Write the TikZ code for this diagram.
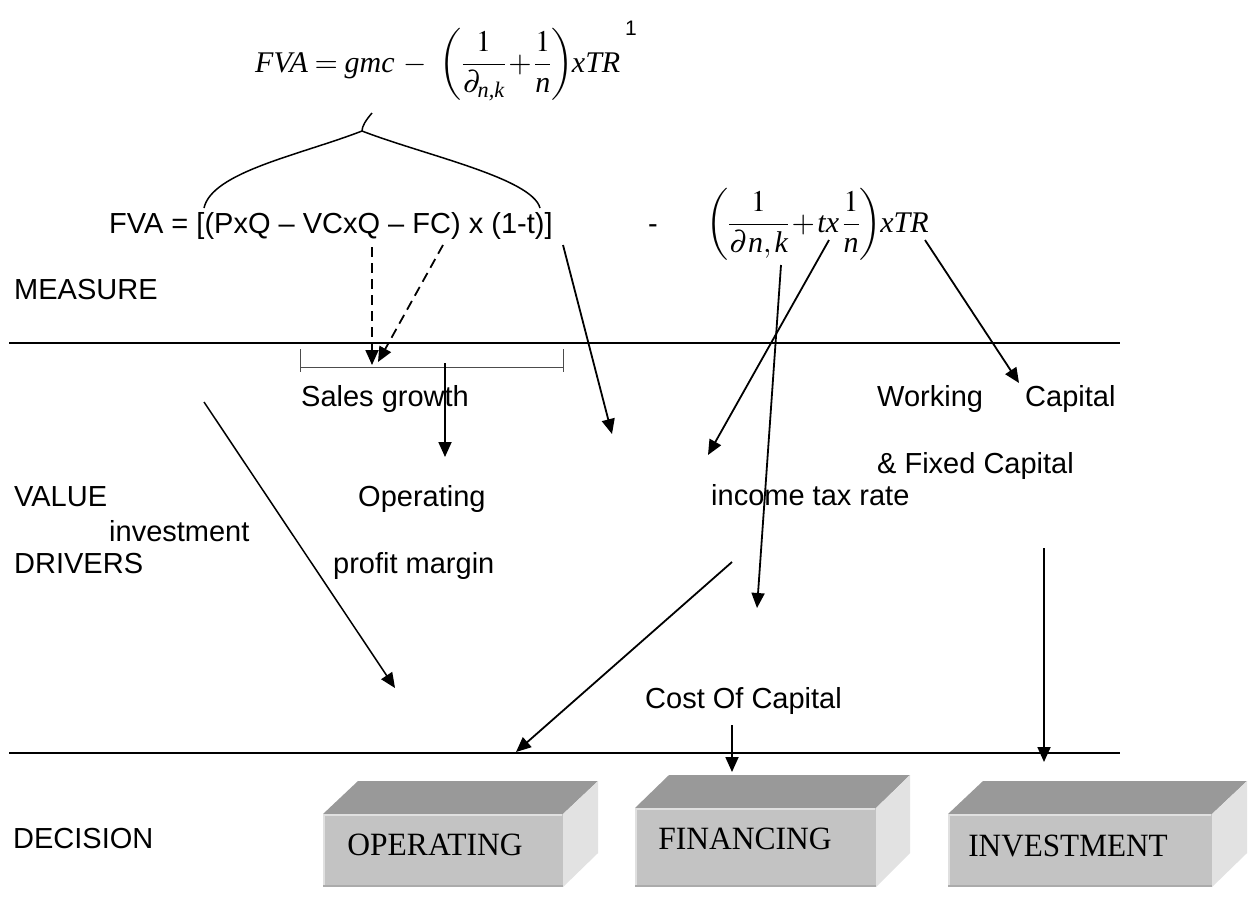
\documentclass[tikz,border=0pt]{standalone}
\usepackage{amsmath}
\usepackage{mathptmx}
\usepackage{graphicx}
\usepackage{fontspec}
\setmainfont{Liberation Serif}
\newfontfamily\arial{Liberation Sans}
\usetikzlibrary{arrows.meta}
\definecolor{topc}{HTML}{999999}
\definecolor{frontc}{HTML}{C3C3C3}
\definecolor{sidec}{HTML}{E2E2E2}
\begin{document}
\begin{tikzpicture}[x=1pt,y=-1pt,
  lbl/.style={anchor=base west, inner sep=0pt, font=\arial\fontsize{29}{34}\selectfont},
  boxtxt/.style={anchor=base, inner sep=0pt, font=\fontsize{32.5}{38}\selectfont},
  mathtxt/.style={anchor=base west, inner sep=0pt, font=\fontsize{30}{36}\selectfont},
  conn/.style={line width=1.8pt, -{Triangle[length=15pt,width=13pt]}},
  dconn/.style={conn, dash pattern=on 10pt off 6pt},
  sepline/.style={line width=2pt}
]
\fill[white] (0,0) rectangle (1252,922);
\useasboundingbox (0,0) rectangle (1252,922);

% formulas
\node[mathtxt] (topf) at (255,72) {$\textit{FVA} = \textit{gmc}\mkern3mu-\mkern5mu\left(\dfrac{1}{\partial_{\textit{n,k}}}\mkern-1mu+\mkern-1mu\dfrac{1}{\textit{n}}\right)\mkern-3mu\textit{xTR}$};
\node[anchor=base, inner sep=0pt, font=\arial\fontsize{21}{24}\selectfont] (sup1) at (631,35) {1};
\node[lbl] (fva) at (109,233) {FVA = [(PxQ – VCxQ – FC) x (1-t)]};
\node[anchor=base, inner sep=0pt, font=\arial\fontsize{29}{34}\selectfont] (minus) at (653,233) {-};
\node[mathtxt] (secf) at (706,232) {$\left(\dfrac{1}{\partial\textit{n}, \textit{k}}\mkern-1mu+\mkern-1mu\textit{tx}\,\dfrac{1}{\textit{n}}\right)\mkern-3mu\textit{xTR}$};

% brace
\draw[line width=1.5pt] (372,113) .. controls (366,120) and (362,126) .. (362,131);
\draw[line width=1.5pt] (362,131) .. controls (300,155) and (212,172) .. (204,208);
\draw[line width=1.5pt] (362,131) .. controls (424,155) and (532,178) .. (540,208);

% labels
\node[lbl] (measure) at (14,299) {MEASURE};
\node[lbl] (sales) at (301,406) {Sales growth};
\node[lbl] (working) at (877,406) {Working};
\node[lbl] (capital) at (1025,406) {Capital};
\node[lbl] (fixed) at (877,473) {\& Fixed Capital};
\node[lbl] (value) at (14,506) {VALUE};
\node[lbl] (operating) at (358,506) {Operating};
\node[lbl] (income) at (711,505) {income tax rate};
\node[lbl] (invest) at (109,541) {investment};
\node[lbl] (drivers) at (14,573) {DRIVERS};
\node[lbl] (profit) at (333,573) {profit margin};
\node[lbl] (cost) at (645,708) {Cost Of Capital};
\node[lbl] (decision) at (13,848) {DECISION};

% separators
\coordinate (l1a) at (9,343); \coordinate (l1b) at (1120,343);
\coordinate (l2a) at (9,753); \coordinate (l2b) at (1120,753);
\draw[sepline] (l1a) -- (l1b);
\draw[sepline] (l2a) -- (l2b);

% sales growth bracket
\draw[black!70, line width=1pt] (300,349) -- (300,372) (300,367) -- (563,367) (563,349) -- (563,372);

% boxes
\fill[topc] (323,814) -- (563,814) -- (598,781) -- (358,781) -- cycle;
\fill[sidec] (563,814) -- (598,781) -- (598,853) -- (563,887) -- cycle;
\fill[frontc] (323,814) rectangle (563,887);
\draw[black!12, line width=1.5pt] (324,886) -- (324,815) -- (562,815);
\draw[black!33, line width=1.5pt] (323,886) -- (563,886);

\fill[topc] (635,808) -- (876,808) -- (910,775) -- (669,775) -- cycle;
\fill[sidec] (876,808) -- (910,775) -- (910,853) -- (876,887) -- cycle;
\fill[frontc] (635,808) rectangle (876,887);
\draw[black!12, line width=1.5pt] (636,886) -- (636,809) -- (875,809);
\draw[black!33, line width=1.5pt] (635,886) -- (876,886);

\fill[topc] (948,814) -- (1212,814) -- (1247,781) -- (983,781) -- cycle;
\fill[sidec] (1212,814) -- (1247,781) -- (1247,853) -- (1212,887) -- cycle;
\fill[frontc] (948,814) rectangle (1212,887);
\draw[black!12, line width=1.5pt] (949,886) -- (949,815) -- (1211,815);
\draw[black!33, line width=1.5pt] (948,886) -- (1212,886);

\node[boxtxt] (bop) at (435,855) {\scalebox{0.97}[1]{OPERATING}};
\node[boxtxt] (bfi) at (745,849) {\scalebox{0.97}[1]{FINANCING}};
\node[boxtxt] (bin) at (1068,856) {\scalebox{0.96}[1]{INVESTMENT}};

% connectors
\coordinate (d1s) at (372,247); \coordinate (d1e) at (372,365);
\coordinate (d2s) at (443,245); \coordinate (d2e) at (378,362);
\coordinate (brs) at (563,245); \coordinate (bre) at (612,434);
\coordinate (sgs) at (445,363); \coordinate (sge) at (445,457);
\coordinate (ivs) at (204,402); \coordinate (ive) at (395,688);
\coordinate (txs) at (829,240); \coordinate (txe) at (708,455);
\coordinate (pds) at (781,265); \coordinate (pde) at (757,608);
\coordinate (trs) at (925,240); \coordinate (tre) at (1019,383);
\coordinate (ops) at (732,562); \coordinate (ope) at (516,752);
\coordinate (ccs) at (732,725); \coordinate (cce) at (732,772);
\coordinate (ins) at (1044,548); \coordinate (ine) at (1044,762);

\draw[dconn] (d1s) -- (d1e);
\draw[dconn] (d2s) -- (d2e);
\draw[conn] (brs) -- (bre);
\draw[conn] (sgs) -- (sge);
\draw[conn, line width=1.5pt] (ivs) -- (ive);
\draw[conn] (txs) -- (txe);
\draw[conn] (pds) -- (pde);
\draw[conn] (trs) -- (tre);
\draw[conn] (ops) -- (ope);
\draw[conn] (ccs) -- (cce);
\draw[conn] (ins) -- (ine);
\end{tikzpicture}
\end{document}
